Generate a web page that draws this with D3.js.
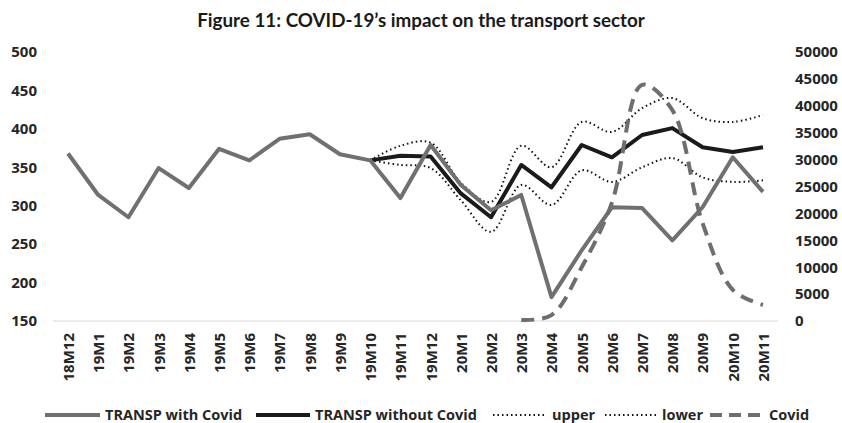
<!DOCTYPE html>
<html>
<head>
<meta charset="utf-8">
<script src="https://cdn.jsdelivr.net/npm/d3@7"></script>
<style>
  body { margin: 0; background: #fff; }
  text { font-family: "Open Sans", sans-serif; fill: #262626; }
</style>
</head>
<body>
<script>
// monthly categories (YYMmm)
var categories = ["18M12","19M1","19M2","19M3","19M4","19M5","19M6","19M7","19M8","19M9","19M10","19M11",
                  "19M12","20M1","20M2","20M3","20M4","20M5","20M6","20M7","20M8","20M9","20M10","20M11"];
var withCovid = [368,314,285,349,323,374,359,387,393,367,359,310,379,327,294,314,181,242,298,297,255,298,363,318];
var withoutCovid = [null,null,null,null,null,null,null,null,null,null,359,365,364,316,285,353,324,379,363,392,401,376,370,376];
var upper = [null,null,null,null,null,null,null,null,null,null,359,378,382,330,305,378,350,409,396,427,440,414,409,418];
var lower = [null,null,null,null,null,null,null,null,null,null,359,353,349,307,266,327,301,346,331,350,362,337,331,333];
var covid = [null,null,null,null,null,null,null,null,null,null,null,null,null,null,null,200,1100,10000,22000,43900,39200,18200,5800,3000];
var leftTicks = [150,200,250,300,350,400,450,500];
var rightTicks = [0,5000,10000,15000,20000,25000,30000,35000,40000,45000,50000];

var width = 842, height = 423;
var svg = d3.select("body").append("svg")
    .attr("width", width)
    .attr("height", height);

var x = d3.scalePoint().domain(categories).range([68, 763]);
var yL = d3.scaleLinear().domain([150, 500]).range([321, 52]);
var yR = d3.scaleLinear().domain([0, 50000]).range([321, 52]);

// title, fitted to the width it has in the picture
var title = svg.append("text")
    .attr("x", 421).attr("y", 27)
    .attr("text-anchor", "middle")
    .style("font-family", "Lato, sans-serif")
    .style("font-weight", 700)
    .style("font-size", "18px")
    .style("fill", "#1a1a1a")
    .text("Figure 11: COVID-19\u2019s impact on the transport sector");
var tw = title.node().getComputedTextLength();
title.style("font-size", (18 * 448 / tw) + "px");

// baseline
svg.append("line")
    .attr("x1", 53).attr("x2", 778)
    .attr("y1", 321).attr("y2", 321)
    .attr("stroke", "#d9d9d9").attr("stroke-width", 1);

// left axis
var axL = svg.append("g").attr("transform", "translate(37,0)")
    .call(d3.axisLeft(yL).tickValues(leftTicks).tickSize(0).tickPadding(0));
axL.select(".domain").remove();
axL.selectAll("text")
    .style("font-family", "Open Sans, sans-serif")
    .style("font-weight", 700).style("font-size", "15px").style("fill", "#262626");

// right axis
var axR = svg.append("g").attr("transform", "translate(795,0)")
    .call(d3.axisRight(yR).tickValues(rightTicks).tickSize(0).tickPadding(0).tickFormat(d3.format("d")));
axR.select(".domain").remove();
axR.selectAll("text")
    .style("font-family", "Open Sans, sans-serif")
    .style("font-weight", 700).style("font-size", "15px").style("fill", "#262626");

// x axis (rotated labels)
var axX = svg.append("g").attr("transform", "translate(0,321)")
    .call(d3.axisBottom(x).tickSize(0).tickPadding(0));
axX.select(".domain").remove();
axX.selectAll("text")
    .attr("transform", "rotate(-90)")
    .attr("x", -12).attr("y", 0).attr("dy", "0.36em")
    .attr("text-anchor", "end")
    .style("font-family", "Open Sans, sans-serif")
    .style("font-weight", 700).style("font-size", "15px").style("fill", "#262626");

function lineOn(scale, curve) {
    return d3.line()
        .defined(function(d) { return d != null; })
        .x(function(d, i) { return x(categories[i]); })
        .y(function(d) { return scale(d); })
        .curve(curve);
}

var series = [
    {name: "upper", values: upper, scale: yL, curve: d3.curveCatmullRom, color: "#111", width: 2, dash: "1.5,3"},
    {name: "lower", values: lower, scale: yL, curve: d3.curveCatmullRom, color: "#111", width: 2, dash: "1.5,3"},
    {name: "TRANSP without Covid", values: withoutCovid, scale: yL, curve: d3.curveLinear, color: "#1a1a1a", width: 4, dash: null},
    {name: "TRANSP with Covid", values: withCovid, scale: yL, curve: d3.curveLinear, color: "#707070", width: 4, dash: null},
    {name: "Covid", values: covid, scale: yR, curve: d3.curveCatmullRom, color: "#6e6e6e", width: 4, dash: "13,8"}
];

svg.selectAll("path.series")
    .data(series)
    .enter()
    .append("path")
    .attr("class", "series")
    .attr("fill", "none")
    .attr("stroke", function(d) { return d.color; })
    .attr("stroke-width", function(d) { return d.width; })
    .attr("stroke-dasharray", function(d) { return d.dash; })
    .attr("stroke-linejoin", "round")
    .attr("d", function(d) { return lineOn(d.scale, d.curve)(d.values); });

// legend
var legendItems = [
    {label: "TRANSP with Covid", x1: 45, x2: 100, tx: 105, color: "#707070", width: 4, dash: null},
    {label: "TRANSP without Covid", x1: 256, x2: 310, tx: 315, color: "#1a1a1a", width: 4, dash: null},
    {label: "upper", x1: 493, x2: 545, tx: 552, color: "#111", width: 2, dash: "1.5,3"},
    {label: "lower", x1: 605, x2: 657, tx: 662, color: "#111", width: 2, dash: "1.5,3"},
    {label: "Covid", x1: 710, x2: 760, tx: 769, color: "#6e6e6e", width: 4, dash: "12,7"}
];
var lg = svg.selectAll("g.legend").data(legendItems).enter().append("g").attr("class", "legend");
lg.append("line")
    .attr("x1", function(d) { return d.x1; })
    .attr("x2", function(d) { return d.x2; })
    .attr("y1", 415).attr("y2", 415)
    .attr("stroke", function(d) { return d.color; })
    .attr("stroke-width", function(d) { return d.width; })
    .attr("stroke-dasharray", function(d) { return d.dash; });
lg.append("text")
    .attr("x", function(d) { return d.tx; })
    .attr("y", 415).attr("dy", "0.36em")
    .style("font-family", "Open Sans, sans-serif")
    .style("font-weight", 700).style("font-size", "14.5px").style("fill", "#262626")
    .text(function(d) { return d.label; });
</script>
</body>
</html>
